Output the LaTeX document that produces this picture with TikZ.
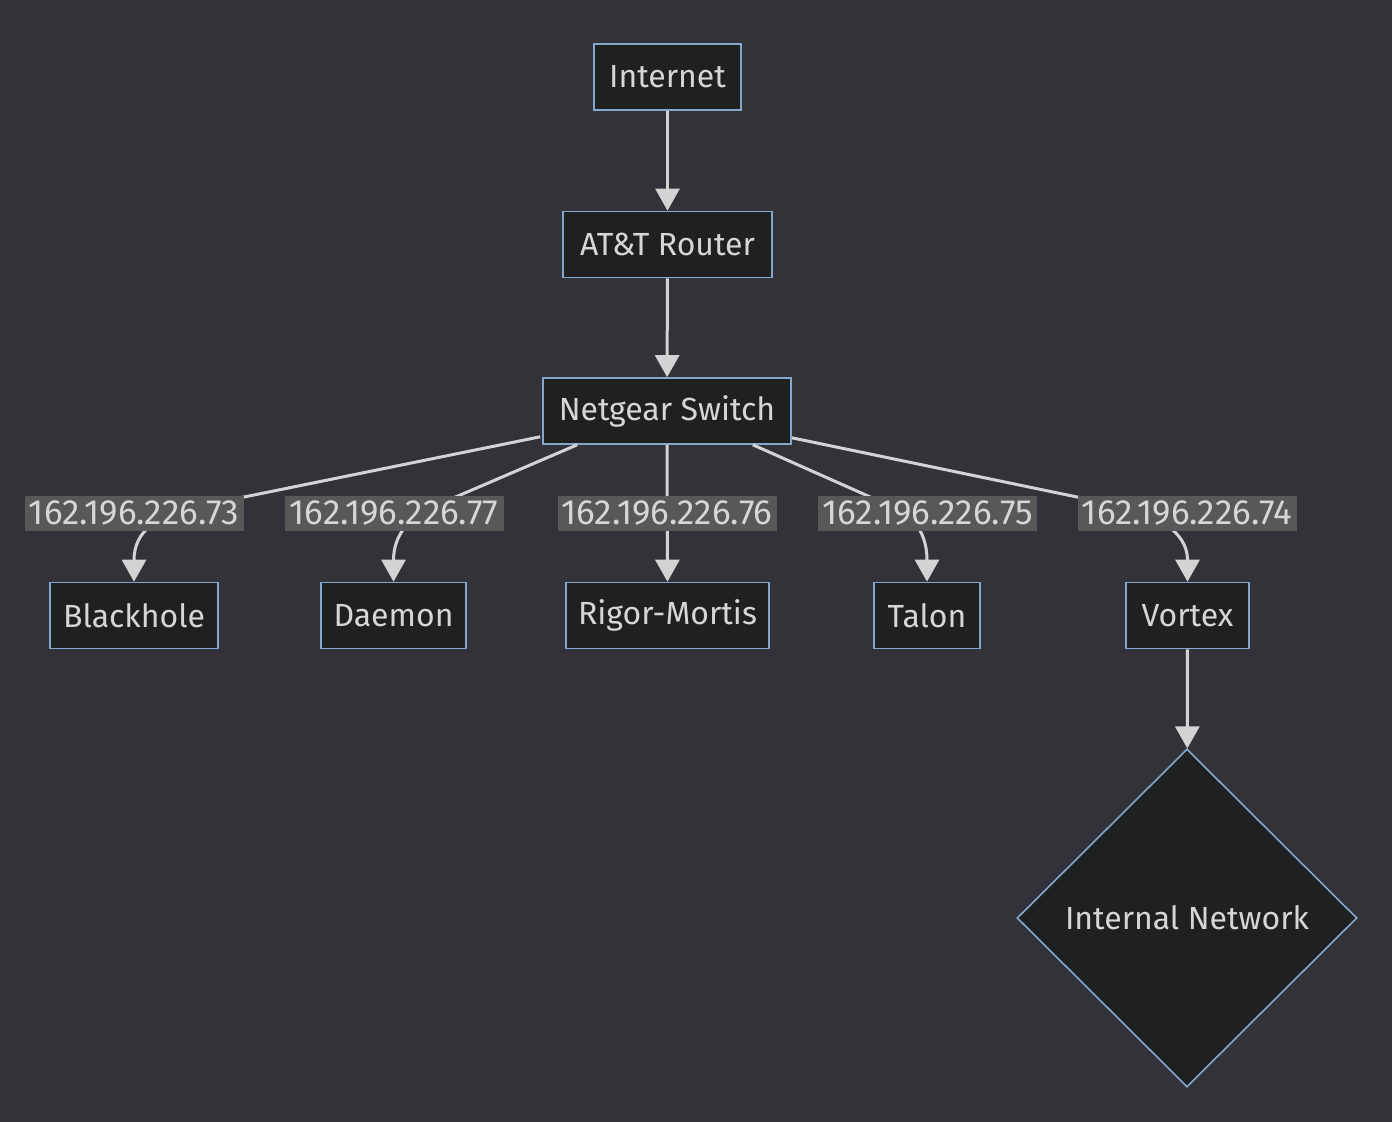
\documentclass[tikz,border=0pt]{standalone}
\usepackage{fontspec}
\setmainfont{Fira Sans}
\usetikzlibrary{arrows.meta,shapes.geometric}
\definecolor{bgc}{HTML}{333239}
\definecolor{nodefill}{HTML}{1F2020}
\definecolor{nodeborder}{HTML}{84A7D0}
\definecolor{txt}{HTML}{D6D6D6}
\definecolor{edgec}{HTML}{D3D3D3}
\definecolor{lblbg}{HTML}{585858}
\begin{document}
\begin{tikzpicture}[x=0.5pt,y=-0.5pt,
  box/.style={draw=nodeborder, fill=nodefill, line width=0.8pt, text=txt,
    font=\fontsize{16}{19}\selectfont, inner sep=0pt, minimum height=33pt},
  decision/.style={diamond, aspect=1, draw=nodeborder, fill=nodefill, line width=0.8pt,
    text=txt, font=\fontsize{16}{19}\selectfont, inner sep=0pt,
    minimum width=170pt, minimum height=169pt},
  lbl/.style={fill=lblbg, text=txt, font=\fontsize{17.5}{20}\selectfont,
    inner sep=0pt, minimum width=109.5pt, minimum height=17.5pt},
  edge/.style={draw=edgec, line width=1.5pt, -{Triangle[length=11pt,width=12pt]}}
]
\useasboundingbox[fill=bgc] (0,0) rectangle (1392,1122);

\node[box, minimum width=73.5pt] (inet) at (667.5,77) {Internet};
\node[box, minimum width=104.5pt] (att) at (667.5,244.5) {AT\&T Router};
\node[box, minimum width=124pt] (sw) at (667,411) {Netgear Switch};

\node[box, minimum width=84pt] (bh) at (134,615.5) {Blackhole};
\node[box, minimum width=72.5pt] (dm) at (393.5,615.5) {Daemon};
\node[box, minimum width=101.5pt] (rm) at (667.5,615.5) {Rigor-Mortis};
\node[box, minimum width=53pt] (tl) at (927,615.5) {Talon};
\node[box, minimum width=61.5pt] (vx) at (1187.5,615.5) {Vortex};
\node[decision] (inw) at (1187,918) {Internal Network};

\draw[edge] (inet) -- (att);
\draw[edge] (att) -- (sw);

% edges to hosts (drawn before labels)
\draw[edge] (sw.south west) ++(-2,-8) -- (190,508) .. controls (160,515) and (134,530) .. (134,560) -- (bh.north);
\draw[edge] (sw.south west) ++(35,0) -- (430,508) .. controls (410,517) and (393.5,535) .. (393.5,560) -- (dm.north);
\draw[edge] (sw.south) -- (rm.north);
\draw[edge] (sw.south east) ++(-39,0) -- (895,508) .. controls (915,517) and (927,535) .. (927,560) -- (tl.north);
\draw[edge] (sw.south east) ++(0,-7) -- (1130,508) .. controls (1152,515) and (1187.5,530) .. (1187.5,560) -- (vx.north);
\draw[edge] (vx) -- (inw);

\node[lbl] (l1) at (134,513.5) {162.196.226.73};
\node[lbl] (l2) at (394,513.5) {162.196.226.77};
\node[lbl] (l3) at (667,513.5) {162.196.226.76};
\node[lbl] (l4) at (927.5,513.5) {162.196.226.75};
\node[lbl] (l5) at (1187,513.5) {162.196.226.74};
\end{tikzpicture}
\end{document}
